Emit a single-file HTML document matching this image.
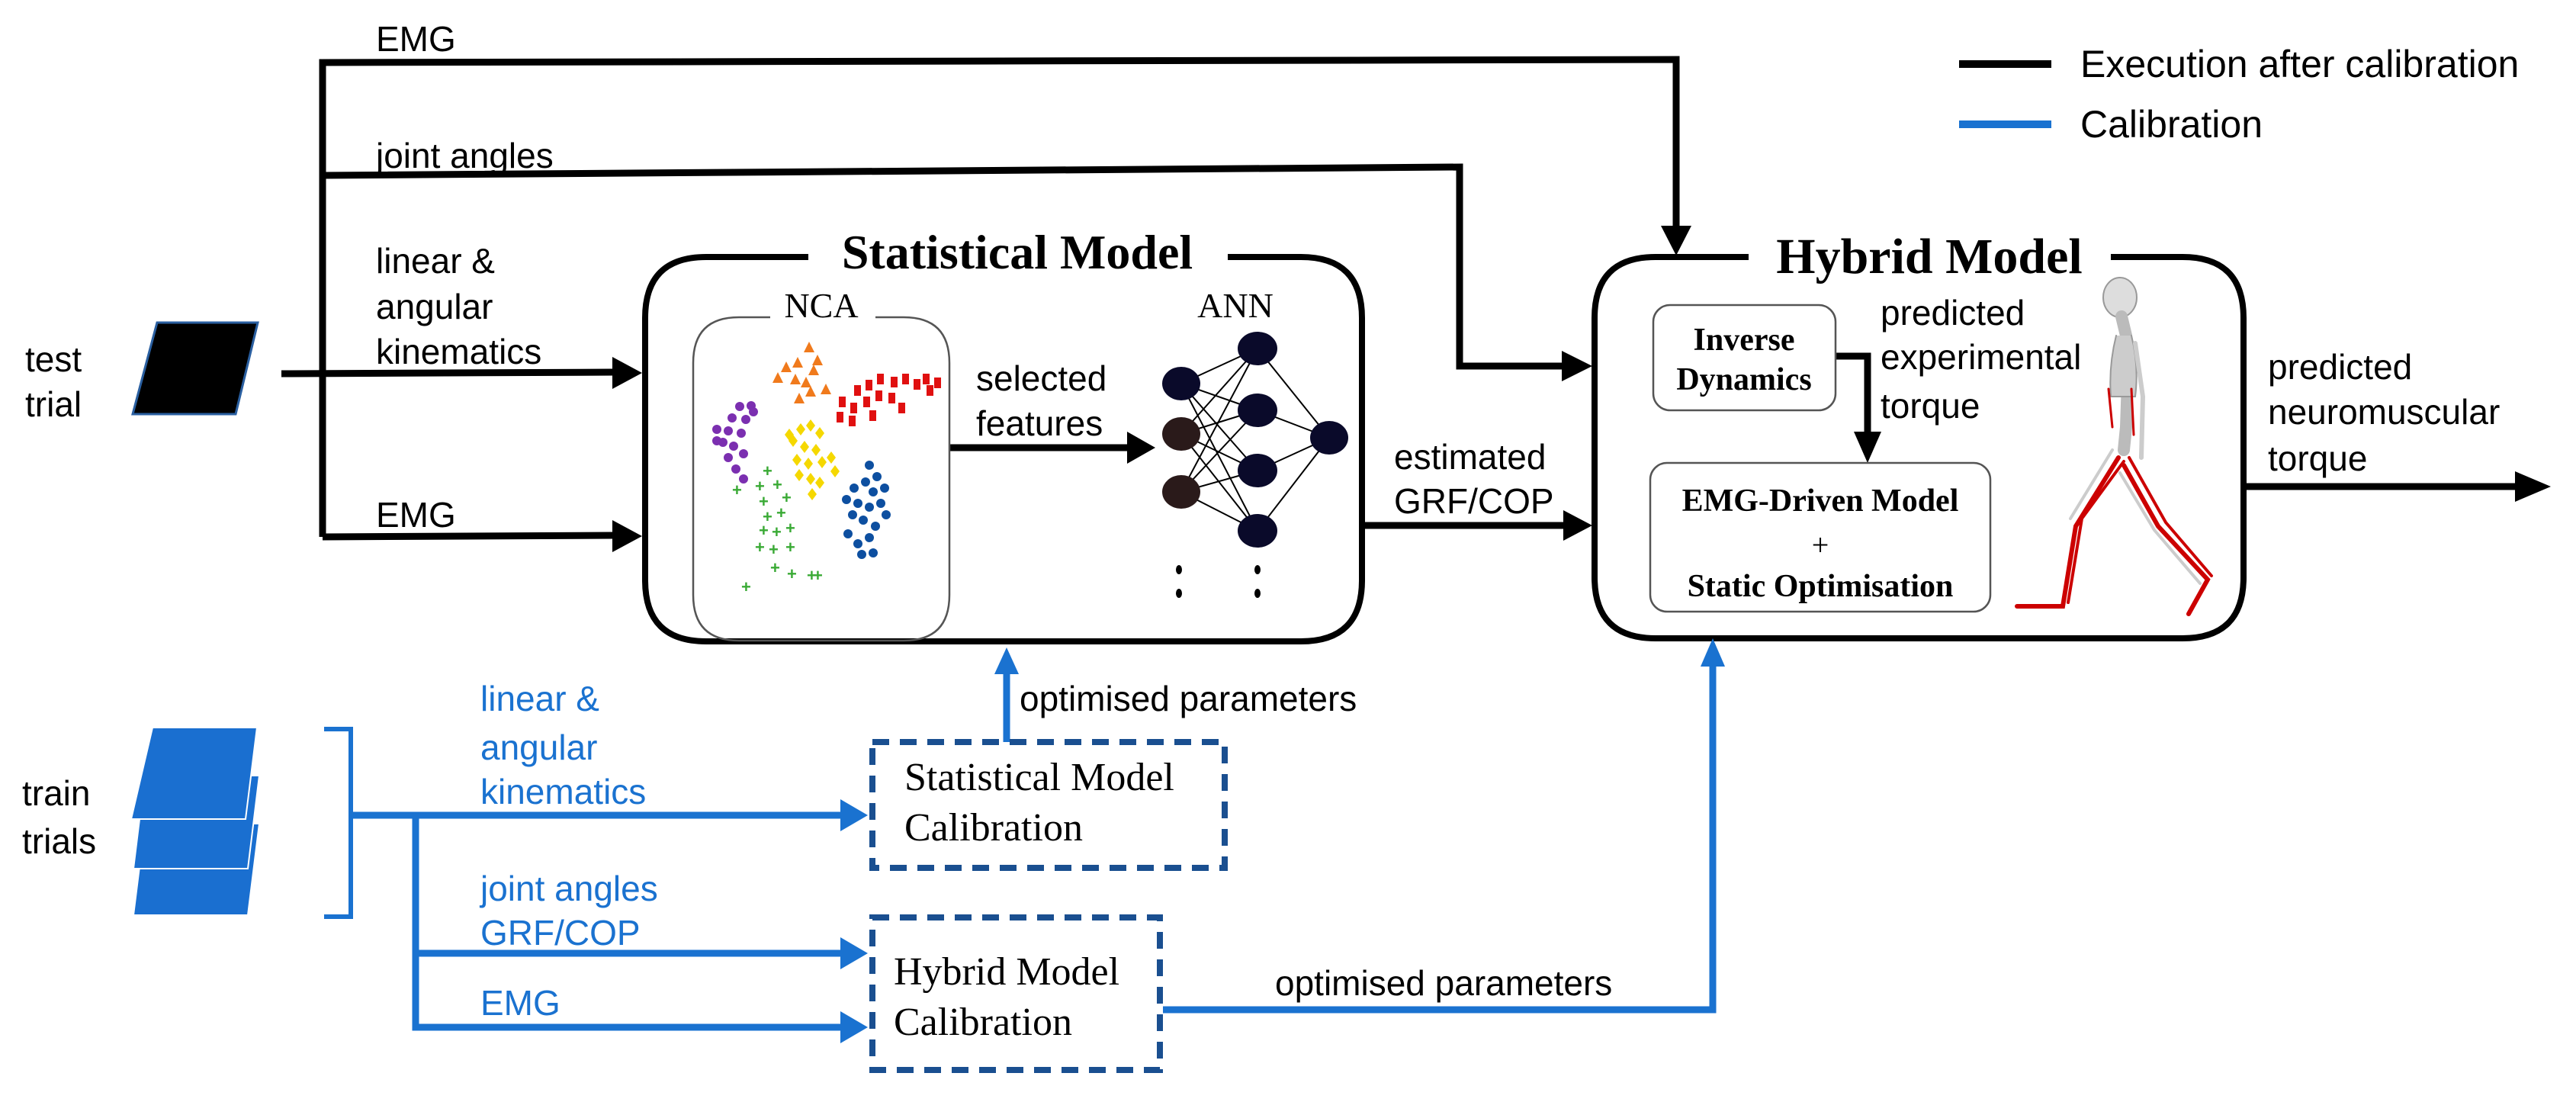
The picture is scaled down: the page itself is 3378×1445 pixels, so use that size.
<!DOCTYPE html>
<html><head><meta charset="utf-8"><style>
html,body{margin:0;padding:0;background:#fff;}
svg{display:block;}
.s{font-family:"Liberation Sans",sans-serif;font-size:46px;fill:#000;}
.b{fill:#1a72d0;}
.sb{font-family:"Liberation Serif",serif;font-weight:bold;fill:#000;}
.sr{font-family:"Liberation Serif",serif;fill:#000;}
</style></head><body>
<svg width="3378" height="1445" viewBox="0 0 3378 1445" xmlns="http://www.w3.org/2000/svg">

<!-- legend -->
<line x1="2569" y1="84" x2="2690" y2="84" stroke="#000" stroke-width="10"/>
<text class="s" x="2728" y="101" style="font-size:50px">Execution after calibration</text>
<line x1="2569" y1="163" x2="2690" y2="163" stroke="#1a72d0" stroke-width="10"/>
<text class="s" x="2728" y="180" style="font-size:50px">Calibration</text>

<!-- test trial -->
<text class="s" x="33" y="487">test</text>
<text class="s" x="33" y="546">trial</text>
<polygon points="206,423 338,423 309,543 174,543" fill="#000" stroke="#2a5fa0" stroke-width="3"/>

<!-- black connectors -->
<g fill="none" stroke="#000" stroke-width="9">
<polyline points="423,704 423,82 2198,78 2198,300"/>
<polyline points="423,230 1914,219 1914,480 2050,480"/>
<line x1="369" y1="490" x2="805" y2="488"/>
<line x1="423" y1="704" x2="805" y2="702"/>
<line x1="1245" y1="587" x2="1480" y2="587"/>
<line x1="1786" y1="689" x2="2052" y2="689"/>
<polyline points="2407,467 2449,467 2449,570"/>
<line x1="2942" y1="638" x2="3300" y2="638"/>
</g>
<g fill="#000">
<polygon points="2178,296 2218,296 2198,335"/>
<polygon points="2048,460 2048,500 2088,480"/>
<polygon points="803,468 803,510 842,489"/>
<polygon points="803,682 803,724 842,703"/>
<polygon points="1478,566 1478,608 1515,587"/>
<polygon points="2050,669 2050,709 2088,689"/>
<polygon points="2431,566 2467,566 2449,607"/>
<polygon points="3298,618 3298,658 3345,638"/>
</g>
<text class="s" x="493" y="67">EMG</text>
<text class="s" x="493" y="220">joint angles</text>
<text class="s" x="493" y="358">linear &amp;</text>
<text class="s" x="493" y="418">angular</text>
<text class="s" x="493" y="477">kinematics</text>
<text class="s" x="493" y="691">EMG</text>
<text class="s" x="1280" y="512">selected</text>
<text class="s" x="1280" y="571">features</text>
<text class="s" x="1828" y="615">estimated</text>
<text class="s" x="1828" y="673">GRF/COP</text>
<text class="s" x="2466" y="426">predicted</text>
<text class="s" x="2466" y="484">experimental</text>
<text class="s" x="2466" y="548">torque</text>
<text class="s" x="2974" y="497">predicted</text>
<text class="s" x="2974" y="556">neuromuscular</text>
<text class="s" x="2974" y="617">torque</text>

<!-- Statistical Model box -->
<path d="M1060,337 L926,337 Q846,337 846,417 L846,761 Q846,841 926,841 L1706,841 Q1786,841 1786,761 L1786,417 Q1786,337 1706,337 L1610,337" fill="none" stroke="#000" stroke-width="8"/>
<text class="sb" x="1334" y="352" text-anchor="middle" style="font-size:64px">Statistical Model</text>
<path d="M1010,416 L969,416 Q909,416 909,476 L909,780 Q909,840 969,840 L1185,840 Q1245,840 1245,780 L1245,476 Q1245,416 1185,416 L1148,416" fill="none" stroke="#555" stroke-width="2.5"/>
<text class="sr" x="1077" y="416" text-anchor="middle" style="font-size:46px">NCA</text>
<text class="sr" x="1620" y="416" text-anchor="middle" style="font-size:46px">ANN</text>

<!-- scatter -->
<g fill="#f07a1c">
<polygon points="1061,448 1054,462 1068,462"/><polygon points="1031,474 1024,488 1038,488"/><polygon points="1046,468 1039,482 1053,482"/><polygon points="1067,478 1060,492 1074,492"/><polygon points="1043,490 1036,504 1050,504"/><polygon points="1057,494 1050,508 1064,508"/><polygon points="1072,465 1065,479 1079,479"/><polygon points="1020,488 1013,502 1027,502"/><polygon points="1083,503 1076,517 1090,517"/><polygon points="1048,515 1041,529 1055,529"/><polygon points="1063,506 1056,520 1070,520"/>
</g>
<g fill="#e01010">
<rect x="1120" y="505" width="9" height="14"/><rect x="1135" y="498" width="9" height="14"/><rect x="1150" y="490" width="9" height="14"/><rect x="1168" y="494" width="9" height="14"/><rect x="1183" y="490" width="9" height="14"/><rect x="1198" y="497" width="9" height="14"/><rect x="1210" y="490" width="9" height="14"/><rect x="1225" y="495" width="9" height="14"/><rect x="1100" y="520" width="9" height="14"/><rect x="1115" y="528" width="9" height="14"/><rect x="1132" y="520" width="9" height="14"/><rect x="1148" y="512" width="9" height="14"/><rect x="1165" y="515" width="9" height="14"/><rect x="1178" y="528" width="9" height="14"/><rect x="1097" y="540" width="9" height="14"/><rect x="1113" y="545" width="9" height="14"/><rect x="1140" y="538" width="9" height="14"/><rect x="1215" y="505" width="9" height="14"/>
</g>
<g fill="#7b2fb0">
<circle cx="970" cy="533" r="6"/><circle cx="985" cy="532" r="6"/><circle cx="960" cy="548" r="6"/><circle cx="978" cy="550" r="6"/><circle cx="955" cy="565" r="6"/><circle cx="972" cy="568" r="6"/><circle cx="948" cy="580" r="6"/><circle cx="962" cy="585" r="6"/><circle cx="940" cy="563" r="6"/><circle cx="955" cy="600" r="6"/><circle cx="975" cy="595" r="6"/><circle cx="940" cy="578" r="6"/><circle cx="965" cy="615" r="6"/><circle cx="975" cy="628" r="6"/><circle cx="988" cy="540" r="6"/>
</g>
<g fill="#f5d800">
<polygon points="1050,555 1056,563 1050,571 1044,563"/><polygon points="1063,550 1069,558 1063,566 1057,558"/><polygon points="1075,560 1081,568 1075,576 1069,568"/><polygon points="1040,570 1046,578 1040,586 1034,578"/><polygon points="1055,578 1061,586 1055,594 1049,586"/><polygon points="1070,582 1076,590 1070,598 1064,590"/><polygon points="1045,595 1051,603 1045,611 1039,603"/><polygon points="1060,600 1066,608 1060,616 1054,608"/><polygon points="1078,598 1084,606 1078,614 1072,606"/><polygon points="1090,592 1096,600 1090,608 1084,600"/><polygon points="1048,615 1054,623 1048,631 1042,623"/><polygon points="1063,620 1069,628 1063,636 1057,628"/><polygon points="1075,625 1081,633 1075,641 1069,633"/><polygon points="1095,610 1101,618 1095,626 1089,618"/><polygon points="1065,640 1071,648 1065,656 1059,648"/><polygon points="1035,562 1041,570 1035,578 1029,570"/>
</g>
<g fill="#0d4fa0">
<circle cx="1140" cy="610" r="6"/><circle cx="1150" cy="625" r="6"/><circle cx="1135" cy="632" r="6"/><circle cx="1120" cy="640" r="6"/><circle cx="1145" cy="645" r="6"/><circle cx="1160" cy="640" r="6"/><circle cx="1110" cy="655" r="6"/><circle cx="1125" cy="660" r="6"/><circle cx="1140" cy="665" r="6"/><circle cx="1155" cy="660" r="6"/><circle cx="1162" cy="675" r="6"/><circle cx="1118" cy="675" r="6"/><circle cx="1132" cy="682" r="6"/><circle cx="1148" cy="690" r="6"/><circle cx="1140" cy="705" r="6"/><circle cx="1125" cy="713" r="6"/><circle cx="1112" cy="700" r="6"/><circle cx="1130" cy="727" r="6"/><circle cx="1145" cy="725" r="6"/>
</g>
<g fill="#3aaa35" font-family="Liberation Sans" font-size="22" font-weight="bold">
<text x="1000" y="625">+</text><text x="990" y="645">+</text><text x="1013" y="643">+</text><text x="960" y="650">+</text><text x="995" y="665">+</text><text x="1025" y="660">+</text><text x="1000" y="685">+</text><text x="1018" y="680">+</text><text x="995" y="703">+</text><text x="1012" y="705">+</text><text x="1030" y="700">+</text><text x="990" y="725">+</text><text x="1008" y="728">+</text><text x="1030" y="725">+</text><text x="1010" y="752">+</text><text x="1032" y="760">+</text><text x="1058" y="762">+</text><text x="1066" y="762">+</text><text x="972" y="777">+</text>
</g>

<!-- ANN -->
<g stroke="#000" stroke-width="2">
<line x1="1549" y1="503" x2="1649" y2="457"/><line x1="1549" y1="503" x2="1649" y2="538"/><line x1="1549" y1="503" x2="1649" y2="617"/><line x1="1549" y1="503" x2="1649" y2="696"/>
<line x1="1549" y1="569" x2="1649" y2="457"/><line x1="1549" y1="569" x2="1649" y2="538"/><line x1="1549" y1="569" x2="1649" y2="617"/><line x1="1549" y1="569" x2="1649" y2="696"/>
<line x1="1549" y1="645" x2="1649" y2="457"/><line x1="1549" y1="645" x2="1649" y2="538"/><line x1="1549" y1="645" x2="1649" y2="617"/><line x1="1549" y1="645" x2="1649" y2="696"/>
<line x1="1649" y1="457" x2="1743" y2="574"/><line x1="1649" y1="538" x2="1743" y2="574"/><line x1="1649" y1="617" x2="1743" y2="574"/><line x1="1649" y1="696" x2="1743" y2="574"/>
</g>
<ellipse cx="1549" cy="503" rx="25" ry="22" fill="#0a0a2a"/>
<ellipse cx="1549" cy="569" rx="25" ry="22" fill="#2a1a1a"/>
<ellipse cx="1549" cy="645" rx="25" ry="22" fill="#2a1a1a"/>
<ellipse cx="1649" cy="457" rx="26" ry="22" fill="#0a0a2a"/>
<ellipse cx="1649" cy="538" rx="26" ry="22" fill="#0a0a2a"/>
<ellipse cx="1649" cy="617" rx="26" ry="22" fill="#0a0a2a"/>
<ellipse cx="1649" cy="696" rx="26" ry="22" fill="#0a0a2a"/>
<ellipse cx="1743" cy="574" rx="25" ry="22" fill="#0a0a2a"/>
<g fill="#000"><ellipse cx="1546" cy="747" rx="4" ry="6"/><ellipse cx="1546" cy="778" rx="4" ry="6"/><ellipse cx="1649" cy="747" rx="4" ry="6"/><ellipse cx="1649" cy="778" rx="4" ry="6"/></g>

<!-- Hybrid Model box -->
<path d="M2293,337 L2171,337 Q2091,337 2091,417 L2091,757 Q2091,837 2171,837 L2862,837 Q2942,837 2942,757 L2942,417 Q2942,337 2862,337 L2768,337" fill="none" stroke="#000" stroke-width="8"/>
<text class="sb" x="2530" y="358" text-anchor="middle" style="font-size:66px">Hybrid Model</text>
<rect x="2168" y="400" width="239" height="138" rx="22" fill="#fff" stroke="#555" stroke-width="2.5"/>
<text class="sb" x="2287" y="459" text-anchor="middle" style="font-size:42px">Inverse</text>
<text class="sb" x="2287" y="511" text-anchor="middle" style="font-size:42px">Dynamics</text>
<rect x="2164" y="607" width="446" height="195" rx="22" fill="#fff" stroke="#555" stroke-width="2.5"/>
<text class="sb" x="2387" y="670" text-anchor="middle" style="font-size:42px">EMG-Driven Model</text>
<text class="sr" x="2387" y="728" text-anchor="middle" style="font-size:40px">+</text>
<text class="sb" x="2387" y="782" text-anchor="middle" style="font-size:42px">Static Optimisation</text>

<!-- skeleton -->
<g fill="none" stroke-linecap="round">
<ellipse cx="2780" cy="390" rx="22" ry="26" fill="#ddd" stroke="#999" stroke-width="2"/>
<path d="M2782,415 L2788,440 L2790,500 L2788,560 L2785,590" stroke="#bbb" stroke-width="16"/>
<path d="M2775,440 Q2765,480 2768,520 L2800,520 Q2805,480 2795,440" fill="#ccc" stroke="#999" stroke-width="2"/>
<path d="M2800,450 L2810,520 L2808,600" stroke="#ccc" stroke-width="6"/>
<path d="M2778,600 L2722,690 L2705,795 L2645,795" stroke="#c00" stroke-width="6"/>
<path d="M2785,605 L2730,680 L2712,790" stroke="#c00" stroke-width="4"/>
<path d="M2770,590 L2715,680" stroke="#ccc" stroke-width="4"/>
<path d="M2785,610 L2830,690 L2895,760 L2870,805" stroke="#c00" stroke-width="6"/>
<path d="M2792,600 L2840,685 L2900,755" stroke="#c00" stroke-width="4"/>
<path d="M2780,620 L2825,695 L2885,765" stroke="#ccc" stroke-width="4"/>
<path d="M2765,510 L2770,560 M2795,510 L2798,570" stroke="#c00" stroke-width="3"/>
</g>

<!-- train trials -->
<text class="s" x="29" y="1056">train</text>
<text class="s" x="29" y="1119">trials</text>
<g fill="#1a6fd0" stroke="#fff" stroke-width="2">
<polygon points="190,1080 340,1080 325,1200 175,1200"/>
<polygon points="190,1017 340,1017 325,1139 175,1139"/>
<polygon points="200,954 337,954 322,1074 172,1074"/>
</g>
<g fill="none" stroke="#1a72d0" stroke-width="6">
<polyline points="425,956 460,956 460,1202 425,1202"/>
</g>
<g fill="none" stroke="#1a72d0" stroke-width="9">
<line x1="460" y1="1069" x2="1105" y2="1069"/>
<polyline points="545,1069 545,1347 1105,1347"/>
<line x1="545" y1="1250" x2="1105" y2="1250"/>
<line x1="1320" y1="973" x2="1320" y2="880"/>
<polyline points="1525,1324 2246,1324 2246,870"/>
</g>
<g fill="#1a72d0">
<polygon points="1102,1048 1102,1090 1138,1069"/>
<polygon points="1102,1229 1102,1271 1138,1250"/>
<polygon points="1102,1326 1102,1368 1138,1347"/>
<polygon points="1304,884 1336,884 1320,849"/>
<polygon points="2230,874 2262,874 2246,837"/>
</g>
<text class="s b" x="630" y="932">linear &amp;</text>
<text class="s b" x="630" y="996">angular</text>
<text class="s b" x="630" y="1054">kinematics</text>
<text class="s b" x="630" y="1181">joint angles</text>
<text class="s b" x="630" y="1239">GRF/COP</text>
<text class="s b" x="630" y="1331">EMG</text>
<text class="s" x="1337" y="932">optimised parameters</text>
<text class="s" x="1672" y="1305">optimised parameters</text>

<rect x="1144" y="973" width="462" height="165" fill="#fff" stroke="#1a4f90" stroke-width="8" stroke-dasharray="22,14"/>
<text class="sr" x="1186" y="1036" style="font-size:52px">Statistical Model</text>
<text class="sr" x="1186" y="1102" style="font-size:52px">Calibration</text>
<rect x="1144" y="1203" width="377" height="200" fill="#fff" stroke="#1a4f90" stroke-width="8" stroke-dasharray="22,14"/>
<text class="sr" x="1172" y="1291" style="font-size:52px">Hybrid Model</text>
<text class="sr" x="1172" y="1357" style="font-size:52px">Calibration</text>
</svg>
</body></html>
